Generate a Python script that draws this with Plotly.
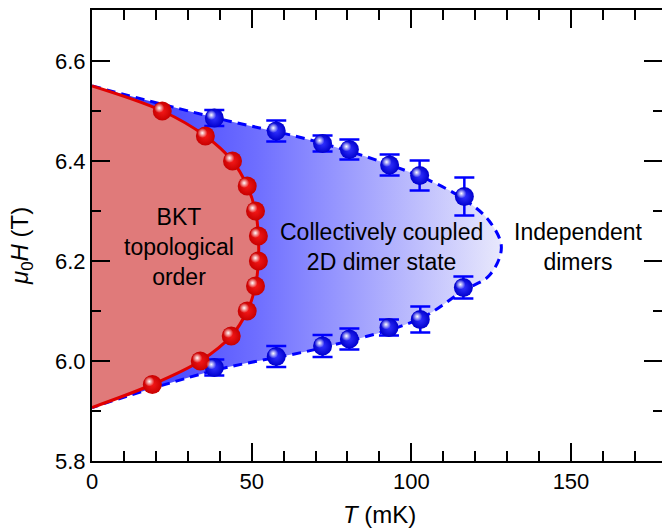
import plotly.graph_objects as go

# ---------------- data ----------------
# BKT (red) phase boundary points
red_T = [22.0, 35.5, 44.0, 48.6, 51.2, 52.1, 52.1, 51.2, 48.6, 43.6, 33.9, 18.9]
red_H = [6.50, 6.45, 6.40, 6.35, 6.30, 6.25, 6.20, 6.15, 6.10, 6.05, 6.00, 5.953]

# Collectively coupled dimer state (blue) points with error bars
blue_T = [38.3, 57.7, 72.2, 80.6, 93.2, 102.6, 116.6, 116.3, 102.8, 93.0, 80.6, 72.2, 57.7, 38.3]
blue_H = [6.486, 6.460, 6.435, 6.423, 6.392, 6.371, 6.329, 6.147, 6.083, 6.067, 6.044, 6.030, 6.009, 5.987]
blue_err = [0.016, 0.021, 0.016, 0.020, 0.021, 0.030, 0.038, 0.022, 0.026, 0.016, 0.021, 0.022, 0.021, 0.016]

# Boundary curves (guides to the eye)
red_bound_T = [0.0, 22.0, 35.5, 44.0, 48.6, 51.2, 52.1, 52.1, 51.2, 48.6, 43.6, 33.9, 18.9, 0.0]
red_bound_H = [6.55, 6.50, 6.45, 6.40, 6.35, 6.30, 6.25, 6.20, 6.15, 6.10, 6.05, 6.00, 5.953, 5.907]
blue_bound_T = [0.0, 38.3, 72.4, 102.8, 116.6, 124.4, 128.2, 124.4, 116.3, 102.8, 72.4, 38.3, 0.0]
blue_bound_H = [6.55, 6.487, 6.435, 6.369, 6.323, 6.280, 6.227, 6.171, 6.141, 6.085, 6.027, 5.981, 5.907]

# Region labels
label_text = ["BKT<br>topological<br>order", "Collectively coupled<br>2D dimer state", "Independent<br>dimers"]
label_T = [27.2, 90.8, 152.5]
label_H = [6.229, 6.229, 6.229]

x_ticks = [0, 50, 100, 150]
y_ticks = [5.8, 6.0, 6.2, 6.4, 6.6]

# ---------------- layout constants ----------------
W, H = 662, 528
ML, MR, MT, MB = 92, 0, 10, 67
XR = [0, 178.5]
YR = [5.8, 6.702]
px_per_T = (W - ML - MR) / (XR[1] - XR[0])
px_per_H = (H - MT - MB) / (YR[1] - YR[0])
FONT = "Liberation Sans, Arial, Helvetica, sans-serif"

fig = go.Figure()

# blue region (gradient) with dashed boundary
fig.add_trace(go.Scatter(
    x=blue_bound_T, y=blue_bound_H, mode="lines", fill="toself",
    line=dict(color="rgb(0,0,255)", width=3, dash="9px,6px", shape="spline", smoothing=1.0),
    fillgradient=dict(type="horizontal",
                      colorscale=[[0, "rgb(45,45,255)"], [0.4, "rgb(110,110,255)"], [1, "rgb(232,232,252)"]],
                      start=0, stop=128.2),
    hoverinfo="skip", showlegend=False))

# red region
fig.add_trace(go.Scatter(
    x=red_bound_T, y=red_bound_H, mode="lines", fill="toself",
    fillcolor="rgb(224,122,122)",
    line=dict(color="rgb(225,0,0)", width=3, shape="spline", smoothing=1.0),
    hoverinfo="skip", showlegend=False))

# blue points with error bars
fig.add_trace(go.Scatter(
    x=blue_T, y=blue_H, mode="markers",
    error_y=dict(type="data", array=blue_err, visible=True, color="rgb(0,0,255)", thickness=2.5, width=10),
    marker=dict(size=19, color="rgb(0,0,205)", line=dict(width=0),
                gradient=dict(type="radial", color="rgb(50,50,255)")),
    hoverinfo="skip", showlegend=False))

# red points
fig.add_trace(go.Scatter(
    x=red_T, y=red_H, mode="markers",
    marker=dict(size=19, color="rgb(200,0,0)", line=dict(width=0),
                gradient=dict(type="radial", color="rgb(245,25,25)")),
    hoverinfo="skip", showlegend=False))

# specular highlights (offset up-left by a few pixels)
dT = -3.0 / px_per_T
dH = 3.0 / px_per_H
for xs, ys in ((blue_T, blue_H), (red_T, red_H)):
    fig.add_trace(go.Scatter(
        x=[v + dT for v in xs], y=[v + dH for v in ys], mode="markers",
        marker=dict(size=10, color="rgba(255,255,255,0)", line=dict(width=0),
                    gradient=dict(type="radial", color="rgba(255,255,255,1)")),
        hoverinfo="skip", showlegend=False))

for txt, tx, ty in zip(label_text, label_T, label_H):
    fig.add_annotation(x=tx, y=ty, text=txt, showarrow=False, xanchor="center", yanchor="middle",
                       font=dict(family=FONT, size=23, color="black"), align="center")

plot_h = H - MT - MB
plot_w = W - ML - MR
# axis titles
fig.add_annotation(xref="paper", yref="paper",
                   x=(379.5 - ML) / plot_w, y=(H - MB - 514) / plot_h,
                   text="<i>T</i> (mK)", showarrow=False, xanchor="center", yanchor="middle",
                   font=dict(family=FONT, size=24, color="black"))
fig.add_annotation(xref="paper", yref="paper",
                   x=(22 - ML) / plot_w, y=(H - MB - 246) / plot_h,
                   text="<i>μ</i><sub>0</sub><i>H</i> (T)", showarrow=False, textangle=-90,
                   xanchor="center", yanchor="middle",
                   font=dict(family=FONT, size=24, color="black"))

axis_common = dict(showline=True, linewidth=2, linecolor="black", mirror="allticks",
                   ticks="inside", ticklen=18, tickwidth=2, tickcolor="black",
                   showgrid=False, zeroline=False,
                   tickfont=dict(family=FONT, size=22, color="black"))

fig.update_xaxes(range=XR, tickvals=x_ticks, ticktext=[str(v) for v in x_ticks],
                 minor=dict(dtick=10, tick0=0, ticks="inside", ticklen=10, tickwidth=2, tickcolor="black"),
                 **axis_common)
fig.update_yaxes(range=YR, tickvals=y_ticks, ticktext=[f"{v:.1f}" for v in y_ticks],
                 minor=dict(dtick=0.1, tick0=5.8, ticks="inside", ticklen=9, tickwidth=2, tickcolor="black"),
                 **axis_common)

fig.update_layout(width=W, height=H, margin=dict(l=ML, r=MR, t=MT, b=MB, autoexpand=False),
                  paper_bgcolor="white", plot_bgcolor="white",
                  font=dict(family=FONT, color="black"))

fig.write_html("out.html")
